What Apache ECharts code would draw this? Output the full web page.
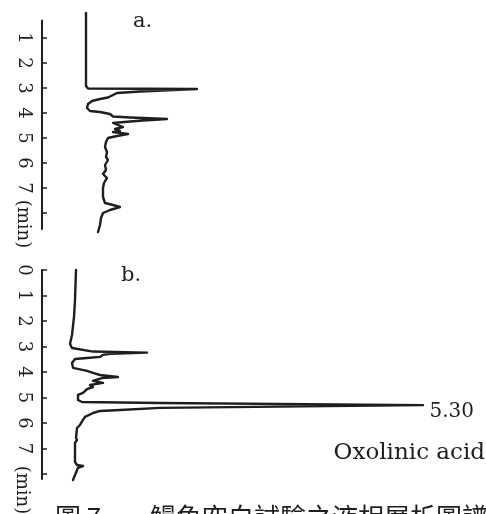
<!DOCTYPE html>
<html>
<head>
<meta charset="utf-8">
<script src="https://cdn.jsdelivr.net/npm/echarts@6/dist/echarts.min.js"></script>
<style>
html, body { margin: 0; padding: 0; background: #fff; }
#chart { width: 486px; height: 514px; }
</style>
</head>
<body>
<div id="chart"></div>
<script>
// Trace a: retention time (min) and detector response (relative units)
const timeA = [0, 1.48, 2.68, 2.92, 3.02, 3.04, 3.14, 3.2, 3.3, 3.38, 3.44, 3.52, 3.64, 3.8, 3.92, 3.96,
  4.04, 4.14, 4.18, 4.2, 4.24, 4.3, 4.34, 4.4, 4.48, 4.56, 4.64, 4.72, 4.76, 4.84, 4.92, 5.0, 5.16, 5.36,
  5.56, 5.76, 5.88, 6.08, 6.28, 6.44, 6.6, 6.8, 7.0, 7.36, 7.6, 7.68, 7.76, 7.88, 8.0, 8.2, 8.48, 8.76];
const respA = [44, 44, 44, 44, 46, 155, 98, 75, 70, 66, 58, 50, 46, 45, 48, 58,
  68, 71, 88, 101, 125, 101, 88, 71, 70, 81, 73, 78, 71, 86, 75, 66, 64, 63,
  65, 64, 66, 63, 64, 61, 65, 62, 61, 61, 63, 71, 78, 68, 61, 59, 58, 56];

// Trace b: retention time (min) and detector response (relative units)
const timeB = [0, 1.18, 1.84, 2.55, 2.9, 3.06, 3.2, 3.24, 3.29, 3.33, 3.41, 3.45, 3.49, 3.65, 3.84, 3.96,
  4.04, 4.12, 4.2, 4.24, 4.35, 4.43, 4.51, 4.59, 4.67, 4.82, 4.9, 5.1, 5.18, 5.22, 5.30, 5.41, 5.49, 5.53,
  5.61, 5.76, 5.88, 6.08, 6.2, 6.59, 6.67, 6.78, 7.14, 7.53, 7.65, 7.69, 7.76, 8.04, 8.24];
const respB = [34, 33, 32, 30, 28, 30, 51, 105, 68, 61, 58, 45, 33, 30, 31, 45,
  51, 58, 76, 60, 51, 61, 48, 51, 45, 41, 36, 36, 40, 118, 381, 118, 78, 58,
  51, 43, 41, 38, 35, 34, 35, 33, 33, 33, 35, 41, 36, 33, 31];

// Labelled peak in trace b
const peakTimeB = 5.30;
const peakName = 'Oxolinic acid';

// Time axis ticks and labels
const tickTimesA = [1, 2, 3, 4, 5, 6, 7, 8];
const labelTimesA = [1, 2, 3, 4, 5, 6, 7];
const tickTimesB = [0, 1, 2, 3, 4, 5, 6, 7, 8];
const labelTimesB = [0, 1, 2, 3, 4, 5, 6, 7];
const timeUnit = '(min)';

const panelLabels = ['a.', 'b.'];
const captionNo = '圖 7';
const captionText = '鰻魚空白試驗之液相層析圖譜';

const INK = '#1e1e1e';
const SERIF = '"DejaVu Serif", "Liberation Serif", serif';

const pairs = (xs, ts) => ts.map((t, i) => [xs[i], t]);
const peakResp = respB[timeB.indexOf(peakTimeB)];

function timeAxis(gridIndex, min, max, ticks, labels) {
  return {
    type: 'value',
    gridIndex: gridIndex,
    inverse: true,
    min: min,
    max: max,
    splitLine: { show: false },
    axisLine: { show: true, lineStyle: { color: INK, width: 2 } },
    axisTick: {
      show: true, inside: true, length: 5,
      lineStyle: { color: INK, width: 1.5 },
      customValues: ticks
    },
    axisLabel: {
      show: true,
      rotate: -90,
      margin: 9,
      fontFamily: SERIF,
      fontSize: 18,
      color: INK,
      customValues: labels
    }
  };
}

function respAxis(gridIndex) {
  return {
    type: 'value', gridIndex: gridIndex, min: 0, max: 440,
    show: false, splitLine: { show: false }
  };
}

const lineStyle = { color: INK, width: 2.4, join: 'round', cap: 'round' };

const chart = echarts.init(document.getElementById('chart'), null, { renderer: 'canvas' });
chart.setOption({
  backgroundColor: '#ffffff',
  animation: false,
  grid: [
    { left: 42, width: 440, top: 20.5, height: 208.5 },
    { left: 42, width: 440, top: 270, height: 209 }
  ],
  xAxis: [respAxis(0), respAxis(1)],
  yAxis: [
    timeAxis(0, 0.3, 8.64, tickTimesA, labelTimesA),
    timeAxis(1, 0, 8.2, tickTimesB, labelTimesB)
  ],
  series: [
    {
      type: 'line', xAxisIndex: 0, yAxisIndex: 0, clip: false,
      showSymbol: false, symbol: 'none', lineStyle: lineStyle,
      data: pairs(respA, timeA)
    },
    {
      type: 'line', xAxisIndex: 1, yAxisIndex: 1, clip: false,
      showSymbol: false, symbol: 'none', lineStyle: lineStyle,
      data: pairs(respB, timeB),
      markPoint: {
        symbol: 'circle',
        symbolSize: 1,
        itemStyle: { color: INK },
        label: {
          show: true,
          position: 'right',
          distance: 6,
          offset: [0, 7],
          fontFamily: SERIF,
          fontSize: 20,
          color: INK,
          formatter: () => peakTimeB.toFixed(2)
        },
        data: [{ coord: [peakResp, peakTimeB] }]
      }
    }
  ],
  graphic: [
    { type: 'text', x: 133, y: 22, style: { text: panelLabels[0], font: '21px ' + SERIF, fill: INK, align: 'left', verticalAlign: 'middle' } },
    { type: 'text', x: 121, y: 276, style: { text: panelLabels[1], font: '21px ' + SERIF, fill: INK, align: 'left', verticalAlign: 'middle' } },
    { type: 'text', x: 23, y: 224, rotation: -Math.PI / 2, style: { text: timeUnit, font: '18px ' + SERIF, fill: INK, align: 'center', verticalAlign: 'middle' } },
    { type: 'text', x: 22, y: 490, rotation: -Math.PI / 2, style: { text: timeUnit, font: '18px ' + SERIF, fill: INK, align: 'center', verticalAlign: 'middle' } },
    { type: 'text', x: 485, y: 453, style: { text: peakName, font: '23px ' + SERIF, fill: INK, align: 'right', verticalAlign: 'middle' } },
    { type: 'text', x: 55, y: 504, style: { text: captionNo, font: '26px "Noto Sans CJK TC", sans-serif', fill: INK, align: 'left', verticalAlign: 'top' } },
    { type: 'text', x: 150, y: 504, style: { text: captionText, font: '26px "Noto Sans CJK TC", sans-serif', fill: INK, align: 'left', verticalAlign: 'top' } }
  ]
});
</script>
</body>
</html>
